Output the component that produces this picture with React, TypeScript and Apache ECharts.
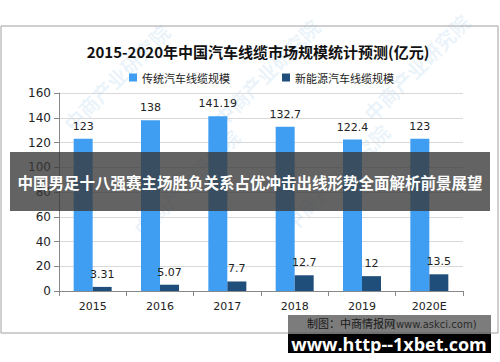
import React, { useEffect, useRef } from "react";
import * as echarts from "echarts";

const categories = ["2015", "2016", "2017", "2018", "2019", "2020E"];
const traditional = [123, 138, 141.19, 132.7, 122.4, 123];
const newEnergy = [3.31, 5.07, 7.7, 12.7, 12, 13.5];
const seriesNames = ["传统汽车线缆规模", "新能源汽车线缆规模"];
const titleText = "2015-2020年中国汽车线缆市场规模统计预测(亿元)";
const bannerText = "中国男足十八强赛主场胜负关系占优冲击出线形势全面解析前景展望";
const sourceText = "制图：中商情报网";
const sourceUrl = "(www.askci.com)";
const footerText = "www.http--1xbet.com";
const watermark = "中商产业研究院";

const wmPositions = [
  [60, 120], [210, 115], [360, 110],
  [130, 225], [280, 220],
];

export default function App() {
  const ref = useRef<HTMLDivElement>(null);
  useEffect(() => {
    if (!ref.current) return;
    const chart = echarts.init(ref.current, null, { renderer: "svg" });
    const font = "'DejaVu Sans', 'Noto Sans CJK SC', sans-serif";
    const wm = wmPositions.map(([x, y]) => ({
      type: "text",
      x,
      y,
      rotation: Math.PI / 4,
      silent: true,
      z: 0,
      style: {
        text: watermark,
        fill: "rgba(90,160,220,0.12)",
        font: "bold 20px 'Noto Sans CJK SC', sans-serif",
      },
    }));
    chart.setOption({
      animation: false,
      backgroundColor: "#ffffff",
      textStyle: { fontFamily: font },
      title: {
        text: titleText,
        left: 253,
        textAlign: "center",
        top: 39,
        textStyle: {
          fontSize: 15,
          fontWeight: "bold",
          color: "#111",
          fontFamily: "'Noto Sans CJK SC', serif",
        },
      },
      legend: {
        top: 67,
        left: 124,
        itemWidth: 8,
        itemHeight: 8,
        itemGap: 52,
        icon: "rect",
        textStyle: { fontSize: 11, color: "#222", fontFamily: "'Noto Sans CJK SC', sans-serif" },
        data: seriesNames,
      },
      grid: { left: 59, right: 37, top: 93, bottom: 71 },
      xAxis: {
        type: "category",
        data: categories,
        axisLine: { lineStyle: { color: "#888" } },
        axisTick: { show: true, length: 5, lineStyle: { color: "#888" } },
        axisLabel: { color: "#222", fontSize: 11, margin: 10 },
      },
      yAxis: {
        type: "value",
        min: 0,
        max: 160,
        interval: 20,
        axisLine: { show: true, lineStyle: { color: "#888" } },
        axisTick: { show: true, length: 5, lineStyle: { color: "#888" } },
        axisLabel: { color: "#222", fontSize: 12, margin: 8 },
        splitLine: { lineStyle: { color: "#d9d9d9" } },
      },
      series: [
        {
          name: seriesNames[0],
          type: "bar",
          data: traditional,
          barWidth: 19,
          barGap: "0%",
          itemStyle: { color: "#3f9ef2" },
          label: { show: true, position: "top", distance: 7, color: "#222", fontSize: 11 },
          z: 3,
        },
        {
          name: seriesNames[1],
          type: "bar",
          data: newEnergy,
          barWidth: 19,
          barGap: "0%",
          itemStyle: { color: "#1f4e7a" },
          label: { show: true, position: "top", distance: 7, color: "#222", fontSize: 11 },
          z: 3,
        },
      ],
      graphic: [
        {
          type: "rect",
          shape: { x: 1, y: 26, width: 497, height: 307 },
          style: { fill: "none", stroke: "#a0a0a0", lineWidth: 1 },
          silent: true,
          z: 1,
        },
        ...wm,
        {
          type: "rect",
          shape: { x: 10, y: 152, width: 480, height: 59 },
          style: { fill: "rgba(55,55,55,0.78)" },
          z: 100,
        },
        {
          type: "text",
          x: 250,
          y: 182,
          z: 101,
          style: {
            text: bannerText,
            fill: "#ffffff",
            font: "bold 15.5px 'Noto Sans CJK SC', sans-serif",
            align: "center",
            verticalAlign: "middle",
          },
        },
        {
          type: "rect",
          shape: { x: 288, y: 315, width: 203, height: 20 },
          style: { fill: "rgba(80,80,80,0.75)" },
          z: 100,
        },
        {
          type: "rect",
          shape: { x: 288, y: 334, width: 203, height: 19 },
          style: { fill: "#000000" },
          z: 100,
        },
        {
          type: "text",
          x: 307,
          y: 323,
          z: 101,
          style: {
            text: sourceText,
            fill: "#1a1a1a",
            font: "11px 'Noto Sans CJK SC', sans-serif",
            verticalAlign: "middle",
          },
        },
        {
          type: "text",
          x: 392,
          y: 324,
          z: 101,
          style: {
            text: sourceUrl,
            fill: "#2a2a2a",
            font: "10px 'DejaVu Sans', sans-serif",
            verticalAlign: "middle",
          },
        },
        {
          type: "text",
          x: 389,
          y: 344,
          z: 102,
          style: {
            text: footerText,
            fill: "#ffffff",
            font: "bold 18px 'Open Sans', 'DejaVu Sans', sans-serif",
            align: "center",
            verticalAlign: "middle",
          },
        },
      ],
    });
    return () => chart.dispose();
  }, []);
  return (
    <div
      ref={ref}
      style={{ width: 500, height: 362, position: "absolute", left: 0, top: 0 }}
    />
  );
}
